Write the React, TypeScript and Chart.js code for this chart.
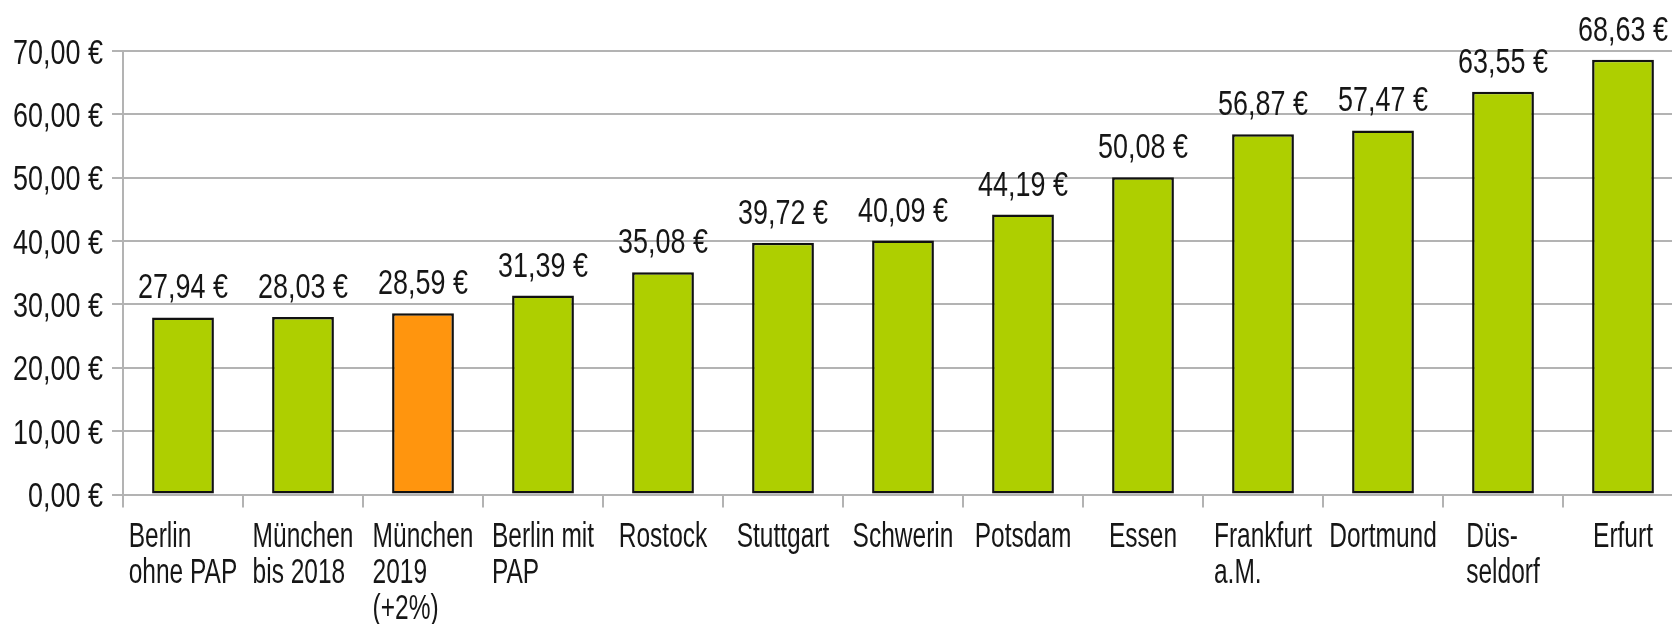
import React, { useEffect, useRef } from "react";
import { Chart, registerables } from "chart.js";

Chart.register(...registerables);

const categories: string[][] = [
  ["Berlin", "ohne PAP"],
  ["München", "bis 2018"],
  ["München", "2019", "(+2%)"],
  ["Berlin mit", "PAP"],
  ["Rostock"],
  ["Stuttgart"],
  ["Schwerin"],
  ["Potsdam"],
  ["Essen"],
  ["Frankfurt", "a.M."],
  ["Dortmund"],
  ["Düs-", "seldorf"],
  ["Erfurt"],
];

const values: number[] = [27.94, 28.03, 28.59, 31.39, 35.08, 39.72, 40.09, 44.19, 50.08, 56.87, 57.47, 63.55, 68.63];

const GREEN = "#aecf00";
const ORANGE = "#ff950e";
const barColors: string[] = values.map((_, i) => (i === 2 ? ORANGE : GREEN));

const yTickValues: number[] = [0, 10, 20, 30, 40, 50, 60, 70];

const fmt = (v: number) => v.toFixed(2).replace(".", ",") + " €";

const TEXT = "#161616";
const FONT = "35px 'Liberation Sans', Arial, sans-serif";
const GRID = "#b3b3b3";

function drawStretched(ctx: CanvasRenderingContext2D, text: string, x: number, y: number, sx: number, align: CanvasTextAlign) {
  ctx.save();
  ctx.translate(x, y);
  ctx.scale(sx, 1);
  ctx.font = FONT;
  ctx.fillStyle = TEXT;
  ctx.textAlign = align;
  ctx.textBaseline = "alphabetic";
  ctx.fillText(text, 0, 0);
  ctx.restore();
}

const textPlugin = {
  id: "textPlugin",
  afterDraw(chart: any) {
    const ctx: CanvasRenderingContext2D = chart.ctx;
    const yScale = chart.scales.y;
    const xScale = chart.scales.x;
    // y tick labels
    yTickValues.forEach((v) => {
      const y = yScale.getPixelForValue(v);
      drawStretched(ctx, fmt(v), 103, y + 12.5, 0.77, "right");
    });
    // bar value labels
    const meta = chart.getDatasetMeta(0);
    meta.data.forEach((bar: any, i: number) => {
      drawStretched(ctx, fmt(values[i]), bar.x, bar.y - 19, 0.77, "center");
    });
    // category labels (block centered, lines left aligned)
    const base = yScale.getPixelForValue(0) + 52;
    ctx.save();
    ctx.font = FONT;
    categories.forEach((lines, i) => {
      const cx = xScale.getPixelForValue(i);
      const w = Math.max(...lines.map((l) => ctx.measureText(l).width)) * 0.7;
      const left = cx - w / 2;
      lines.forEach((line, j) => {
        drawStretched(ctx, line, left, base + j * 36, 0.7, "left");
      });
    });
    ctx.restore();
  },
};

export default function App() {
  const ref = useRef<HTMLCanvasElement | null>(null);

  useEffect(() => {
    if (!ref.current) return;
    const chart = new Chart(ref.current, {
      type: "bar",
      data: {
        labels: categories.map((c) => c.join(" ")),
        datasets: [
          {
            data: values,
            backgroundColor: barColors,
            borderColor: "#111111",
            borderWidth: 2.5,
            borderSkipped: false,
            barPercentage: 0.515,
            categoryPercentage: 1,
          },
        ],
      },
      options: {
        responsive: false,
        animation: false,
        layout: { padding: { top: 51, left: 0, right: 0, bottom: 0 } },
        plugins: { legend: { display: false }, tooltip: { enabled: false } },
        scales: {
          x: {
            grid: { drawOnChartArea: false, drawTicks: true, tickLength: 13, color: GRID, lineWidth: 2, offset: true },
            border: { display: true, color: GRID, width: 2 },
            ticks: { display: false },
            afterFit: (s: any) => {
              s.height = 129.5;
            },
          },
          y: {
            min: 0,
            max: 70,
            ticks: { display: false, stepSize: 10 },
            grid: { color: GRID, lineWidth: 2, tickLength: 11, drawTicks: true },
            border: { display: true, color: GRID, width: 2 },
            afterFit: (s: any) => {
              s.width = 123;
            },
          },
        },
      } as any,
      plugins: [textPlugin],
    });
    return () => chart.destroy();
  }, []);

  return (
    <div style={{ position: "fixed", left: 0, top: 0, width: 1672, height: 624, overflow: "hidden", background: "#fff" }}>
      <canvas ref={ref} width={1683} height={624} style={{ display: "block", width: 1683, height: 624 }} />
    </div>
  );
}
